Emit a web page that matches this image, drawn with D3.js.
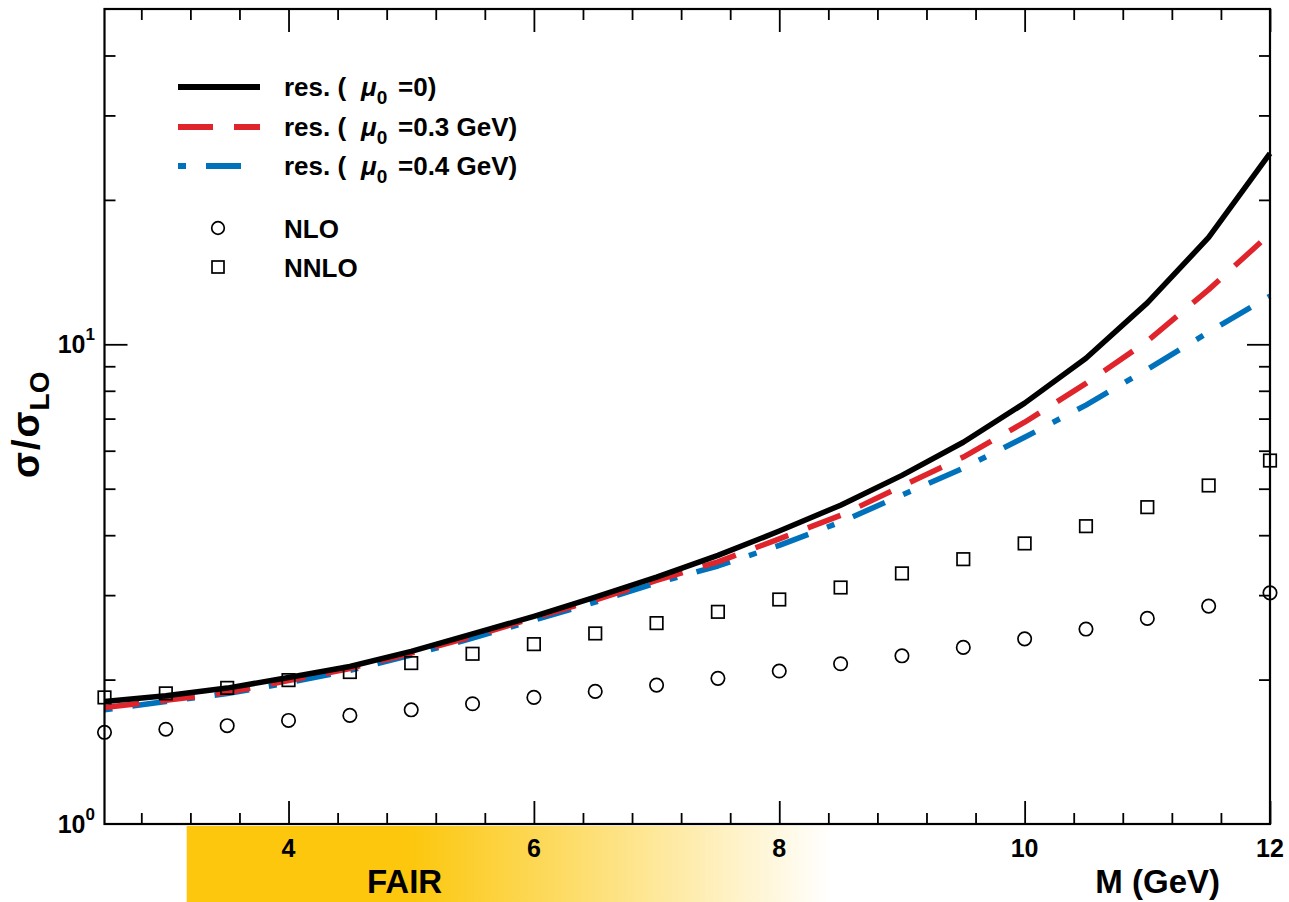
<!DOCTYPE html>
<html>
<head>
<meta charset="utf-8">
<script src="https://cdn.jsdelivr.net/npm/d3@7"></script>
<style>
  html, body { margin: 0; padding: 0; background: #fff; }
  svg { display: block; }
  text { font-family: "Liberation Sans", Arial, Helvetica, sans-serif; font-weight: bold; fill: #000; }
</style>
</head>
<body>
<svg id="chart" width="1289" height="902"></svg>
<script>
// Invariant-mass grid (GeV) and cross-section ratios sigma/sigma_LO
const massPoints = [2.5, 3, 3.5, 4, 4.5, 5, 5.5, 6, 6.5, 7, 7.5, 8, 8.5, 9, 9.5, 10, 10.5, 11, 11.5, 12];
const resMu0  = [1.80, 1.85, 1.92, 2.02, 2.13, 2.29, 2.49, 2.71, 2.97, 3.27, 3.63, 4.08, 4.62, 5.33, 6.25, 7.54, 9.35, 12.2, 16.7, 25.0];
const resMu03 = [1.75, 1.81, 1.88, 1.99, 2.11, 2.27, 2.46, 2.69, 2.93, 3.22, 3.52, 3.93, 4.40, 5.06, 5.82, 6.88, 8.29, 10.15, 13.0, 17.0];
const resMu04 = [1.73, 1.80, 1.87, 1.97, 2.09, 2.25, 2.44, 2.66, 2.90, 3.18, 3.45, 3.81, 4.26, 4.85, 5.52, 6.40, 7.47, 8.87, 10.6, 12.6];
const nlo  = [1.553, 1.576, 1.603, 1.644, 1.684, 1.730, 1.781, 1.836, 1.890, 1.948, 2.012, 2.084, 2.158, 2.242, 2.334, 2.432, 2.549, 2.683, 2.846, 3.033];
const nnlo = [1.836, 1.872, 1.922, 1.995, 2.074, 2.165, 2.264, 2.371, 2.496, 2.623, 2.769, 2.938, 3.112, 3.330, 3.565, 3.845, 4.177, 4.576, 5.078, 5.724];

// Axis ticks
const xMajorTicks = [4, 6, 8, 10, 12];
const xMinorTicks = [2.8, 3.2, 3.6, 4.4, 4.8, 5.2, 5.6, 6.4, 6.8, 7.2, 7.6, 8.4, 8.8, 9.2, 9.6, 10.4, 10.8, 11.2, 11.6];
const yMajorTicks = [10];
const yMinorTicks = [2, 3, 4, 5, 6, 7, 8, 9, 20, 30, 40];
const yLabelTicks = [{v: 1, exp: "0"}, {v: 10, exp: "1"}];

// FAIR mass window (GeV): solid until fairSolid, fading out by fairEnd
const fairStart = 3.17, fairSolid = 5.0, fairEnd = 8.42;

const svg = d3.select("#chart");
const L = 104.5, R = 1270, T = 9, B = 824;
const x = d3.scaleLinear().domain([2.5, 12]).range([L, R]);
const y = d3.scaleLog().domain([1, 50]).range([B, T]);

// FAIR band below the axis
const defs = svg.append("defs");
const grad = defs.append("linearGradient").attr("id", "fairGrad")
  .attr("gradientUnits", "userSpaceOnUse")
  .attr("x1", x(fairStart)).attr("x2", x(fairEnd)).attr("y1", 0).attr("y2", 0);
const solidOff = (x(fairSolid) - x(fairStart)) / (x(fairEnd) - x(fairStart));
grad.append("stop").attr("offset", 0).attr("stop-color", "#fcc70d");
grad.append("stop").attr("offset", solidOff).attr("stop-color", "#fcc70d");
grad.append("stop").attr("offset", 1).attr("stop-color", "#ffffff");
svg.append("rect")
  .attr("x", x(fairStart)).attr("y", B + 2)
  .attr("width", x(fairEnd) - x(fairStart)).attr("height", 902 - B - 2)
  .attr("fill", "url(#fairGrad)");

// Curves
const line = d3.line().x(d => x(d[0])).y(d => y(d[1])).curve(d3.curveLinear);
const series = [
  {vals: resMu0,  color: "#000000", dash: null,            width: 5.5},
  {vals: resMu03, color: "#e0242b", dash: "35,21",         width: 5.5},
  {vals: resMu04, color: "#0072bc", dash: "8,20,35,20",    width: 5.5}
];
series.slice().reverse().forEach(s => {
  svg.append("path")
    .datum(massPoints.map((m, i) => [m, s.vals[i]]))
    .attr("d", line)
    .attr("fill", "none")
    .attr("stroke", s.color)
    .attr("stroke-width", s.width)
    .attr("stroke-dasharray", s.dash)
    .attr("stroke-linejoin", "round");
});

// Fixed-order points
svg.append("g").selectAll("circle").data(massPoints.map((m, i) => [m, nlo[i]]))
  .join("circle")
  .attr("cx", d => x(d[0])).attr("cy", d => y(d[1])).attr("r", 6.7)
  .attr("fill", "none").attr("stroke", "#000").attr("stroke-width", 1.7);
const sq = 12.5;
svg.append("g").selectAll("rect").data(massPoints.map((m, i) => [m, nnlo[i]]))
  .join("rect")
  .attr("x", d => x(d[0]) - sq / 2).attr("y", d => y(d[1]) - sq / 2)
  .attr("width", sq).attr("height", sq)
  .attr("fill", "none").attr("stroke", "#000").attr("stroke-width", 1.7);

// Ticks on all four sides, pointing inward
function tickAxis(axisFn, scale, values, size, tr) {
  const g = svg.append("g").attr("transform", tr)
    .call(axisFn(scale).tickValues(values).tickSize(-size).tickFormat(""));
  g.select(".domain").remove();
  g.selectAll(".tick line").attr("stroke", "#000").attr("stroke-width", 1.8);
  return g;
}
tickAxis(d3.axisBottom, x, xMinorTicks, 11, `translate(0,${B})`);
tickAxis(d3.axisBottom, x, xMajorTicks, 23, `translate(0,${B})`);
tickAxis(d3.axisTop, x, xMinorTicks, 11, `translate(0,${T})`);
tickAxis(d3.axisTop, x, xMajorTicks, 23, `translate(0,${T})`);
tickAxis(d3.axisLeft, y, yMinorTicks, 11, `translate(${L},0)`);
tickAxis(d3.axisLeft, y, yMajorTicks, 23, `translate(${L},0)`);
tickAxis(d3.axisRight, y, yMinorTicks, 11, `translate(${R},0)`);
tickAxis(d3.axisRight, y, yMajorTicks, 23, `translate(${R},0)`);

// Frame
svg.append("rect").attr("x", L).attr("y", T).attr("width", R - L).attr("height", B - T)
  .attr("fill", "none").attr("stroke", "#000").attr("stroke-width", 2.2);

// X tick labels
svg.append("g").selectAll("text").data(xMajorTicks).join("text")
  .attr("x", d => x(d)).attr("y", B + 33)
  .attr("text-anchor", "middle").attr("font-size", 25)
  .text(d => d);

// Y tick labels (powers of ten)
const yl = svg.append("g").selectAll("text").data(yLabelTicks).join("text")
  .attr("x", 95).attr("y", d => y(d.v) + 9)
  .attr("text-anchor", "end").attr("font-size", 25);
yl.append("tspan").text("10");
yl.append("tspan").attr("dy", -13).attr("font-size", 17).text(d => d.exp);

// Axis titles
svg.append("text").attr("x", 1220).attr("y", 893).attr("text-anchor", "end")
  .attr("font-size", 33).text("M (GeV)");
svg.append("text").attr("x", 367).attr("y", 893).attr("font-size", 33).text("FAIR");

const yt = svg.append("text")
  .attr("transform", "translate(39,478) rotate(-90)")
  .attr("text-anchor", "start").attr("font-size", 38);
yt.append("tspan").text("σ");
yt.append("tspan").attr("dx", 2).text("/");
yt.append("tspan").attr("dx", 2).text("σ");
yt.append("tspan").attr("dy", 10).attr("dx", 1).attr("font-size", 28).text("LO");

// Legend
const legendRows = [
  {y: 87,  color: "#000000", dash: null,         mu: "=0)"},
  {y: 127, color: "#e0242b", dash: "35,21",      mu: "=0.3 GeV)"},
  {y: 166, color: "#0072bc", dash: "8,20,35,20", mu: "=0.4 GeV)"}
];
legendRows.forEach(r => {
  svg.append("line").attr("x1", 178).attr("x2", 260).attr("y1", r.y).attr("y2", r.y)
    .attr("stroke", r.color).attr("stroke-width", 6).attr("stroke-dasharray", r.dash);
  const t = svg.append("text").attr("x", 284).attr("y", r.y + 9).attr("font-size", 26);
  t.append("tspan").text("res. (");
  t.append("tspan").attr("x", 361).attr("font-style", "italic").text("μ");
  t.append("tspan").attr("dy", 8).attr("font-size", 19).text("0");
  t.append("tspan").attr("x", 398).attr("dy", -8).text(r.mu);
});
svg.append("circle").attr("cx", 218).attr("cy", 228).attr("r", 6.3)
  .attr("fill", "none").attr("stroke", "#000").attr("stroke-width", 1.7);
svg.append("rect").attr("x", 218 - 6).attr("y", 267 - 6).attr("width", 12).attr("height", 12)
  .attr("fill", "none").attr("stroke", "#000").attr("stroke-width", 1.7);
svg.append("text").attr("x", 284).attr("y", 238).attr("font-size", 26).text("NLO");
svg.append("text").attr("x", 284).attr("y", 277).attr("font-size", 26).text("NNLO");
</script>
</body>
</html>
